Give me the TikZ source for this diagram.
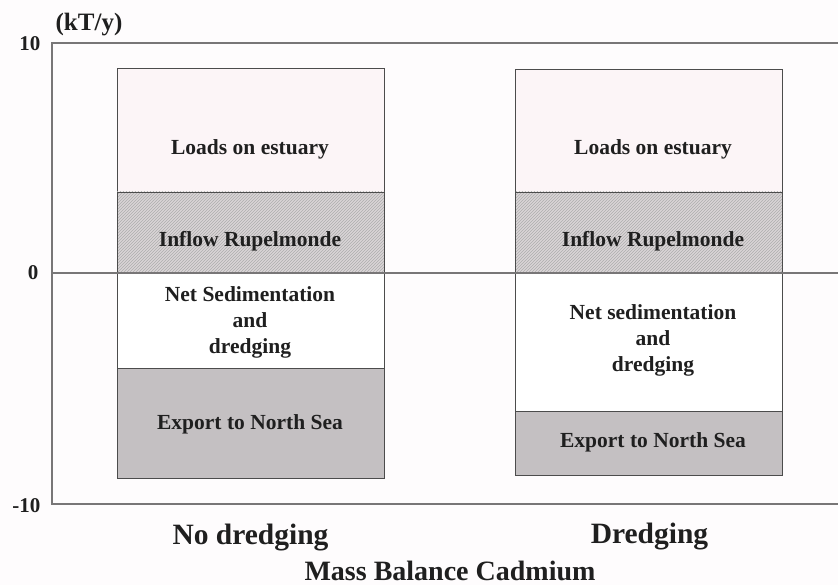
\documentclass[tikz,border=0pt]{standalone}
\usepackage{fontspec}
\setmainfont{Liberation Serif}
\usetikzlibrary{patterns}
\definecolor{paper}{RGB}{254,252,253}
\definecolor{loadfill}{RGB}{252,245,247}
\definecolor{inflowfill}{RGB}{218,213,215}
\definecolor{exportfill}{RGB}{196,192,194}
\definecolor{framecol}{RGB}{120,118,119}
\begin{document}
\begin{tikzpicture}[x=1pt,y=-1pt,
  every node/.style={font=\bfseries, text=black!88},
  seg/.style={draw=black!70, line width=0.9pt, inner sep=0pt, outer sep=0pt,
    anchor=north west, minimum width=267pt},
  boxtext/.style={font=\bfseries\fontsize{21.5}{26}\selectfont, align=center},
  axislabel/.style={font=\bfseries\fontsize{21}{24}\selectfont, anchor=east},
  caselabel/.style={font=\bfseries\fontsize{29.5}{32}\selectfont},
  frameline/.style={draw=framecol, line width=1.1pt}]
% page
\fill[paper] (0,0) rectangle (838,585);
\useasboundingbox (0,0) rectangle (838,585);

% axis frame and zero line
\coordinate (ftl) at (52,43);
\coordinate (ftr) at (838,43);
\coordinate (fbl) at (52,504);
\coordinate (fbr) at (838,504);
\coordinate (zl) at (52,273);
\coordinate (zr) at (838,273);
\draw[frameline] (ftr) -- (ftl) -- (fbl) -- (fbr);

% left column: no dredging
\node[seg, fill=loadfill, minimum height=124pt] (aload) at (117,68) {};
\node[seg, fill=inflowfill, minimum height=81pt] (ainfl) at (117,192) {};
\fill[pattern=north east lines, pattern color=black!32] (ainfl.north west) rectangle (ainfl.south east);
\draw[draw=black!70, line width=0.9pt] (ainfl.north west) rectangle (ainfl.south east);
\node[seg, fill=white, minimum height=95pt] (ased) at (117,273) {};
\node[seg, fill=exportfill, minimum height=110pt] (aexp) at (117,368) {};

% right column: dredging
\node[seg, fill=loadfill, minimum height=123pt] (bload) at (515,69) {};
\node[seg, fill=inflowfill, minimum height=81pt] (binfl) at (515,192) {};
\fill[pattern=north east lines, pattern color=black!32] (binfl.north west) rectangle (binfl.south east);
\draw[draw=black!70, line width=0.9pt] (binfl.north west) rectangle (binfl.south east);
\node[seg, fill=white, minimum height=138pt] (bsed) at (515,273) {};
\node[seg, fill=exportfill, minimum height=64pt] (bexp) at (515,411) {};

\draw[frameline] (zl) -- (zr);

% segment labels
\node[boxtext] (tal) at (250,149) {Loads on estuary};
\node[boxtext] (tai) at (250,241) {Inflow Rupelmonde};
\node[boxtext] (tas) at (250,322) {Net Sedimentation\\and\\dredging};
\node[boxtext] (tae) at (250,424) {Export to North Sea};

\node[boxtext] (tbl) at (653,149) {Loads on estuary};
\node[boxtext] (tbi) at (653,241) {Inflow Rupelmonde};
\node[boxtext] (tbs) at (653,340) {Net sedimentation\\and\\dredging};
\node[boxtext] (tbe) at (653,442) {Export to North Sea};

% axis labels
\node[font=\bfseries\fontsize{25}{28}\selectfont] (unit) at (89,25) {(kT/y)};
\node[axislabel] (ten) at (44,44) {10};
\node[axislabel] (zero) at (42,273) {0};
\node[axislabel] (mten) at (44,506) {-10};

% case and title labels
\node[caselabel] (cna) at (250.5,538) {No dredging};
\node[caselabel] (cnb) at (649.5,537) {Dredging};
\node[font=\bfseries\fontsize{28}{30}\selectfont, anchor=base, inner sep=1pt] (title) at (450,580) {Mass Balance Cadmium};
\end{tikzpicture}
\end{document}
